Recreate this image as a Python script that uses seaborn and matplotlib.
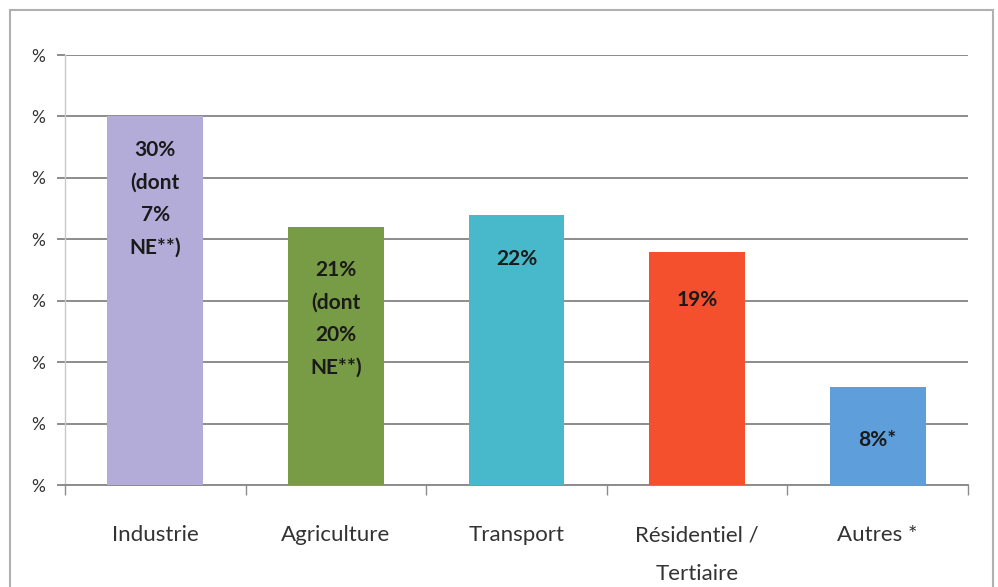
import matplotlib
matplotlib.use("Agg")
import matplotlib.pyplot as plt
import seaborn as sns
import pandas as pd
from matplotlib.patches import Rectangle

categories = ["Industrie", "Agriculture", "Transport", "Résidentiel /\nTertiaire", "Autres *"]
values = [30, 21, 22, 19, 8]
bar_labels = ["30%\n(dont\n7%\nNE**)", "21%\n(dont\n20%\nNE**)", "22%", "19%", "8%*"]
colors = ["#b3acd8", "#789b45", "#47b9ca", "#f4502d", "#5d9edb"]
y_ticks = [0, 5, 10, 15, 20, 25, 30, 35]
y_tick_labels = ["%"] * len(y_ticks)

sns.set_style("white")
plt.rcParams['font.family'] = ['Lato', 'DejaVu Sans']

df = pd.DataFrame({"secteur": categories, "part": values})

fig = plt.figure(figsize=(9.98, 5.87), dpi=100)
fig.patches.append(Rectangle((10 / 998, -0.01), 983 / 998, 1 - 10 / 587 + 0.01,
                             transform=fig.transFigure, fill=False,
                             edgecolor="#b0b0b0", linewidth=1.5))
ax = fig.add_axes([65 / 998, 1 - 485 / 587, (968 - 65) / 998, (485 - 55) / 587])

sns.barplot(data=df, x="secteur", y="part", hue="secteur", palette=colors,
            saturation=1, legend=False, width=0.53, linewidth=0, ax=ax, zorder=3)

ax.set_ylim(0, 35)
ax.set_xlim(-0.5, 4.5)
ax.set_yticks(y_ticks)
ax.set_yticklabels(y_tick_labels, fontsize=12.5, color="#333333")
ax.yaxis.grid(True, color="#8c8c8c", linewidth=1.4, zorder=0)
ax.set_axisbelow(True)
ax.tick_params(axis="y", length=6, width=1.4, color="#8c8c8c", pad=8, left=True)

ax.set_xticks(range(len(categories)))
ax.set_xticklabels(categories, fontsize=16, color="#333333", linespacing=2.2)
ax.set_xticks([i - 0.5 for i in range(len(categories) + 1)], minor=True)
ax.tick_params(axis="x", which="major", length=0, pad=29)
ax.tick_params(axis="x", which="minor", length=7, width=1, color="#8c8c8c", bottom=True)

for s in ["top", "right"]:
    ax.spines[s].set_visible(False)
ax.spines["left"].set_color("#c8c8c8")
ax.spines["left"].set_linewidth(1)
ax.spines["bottom"].set_color("#8c8c8c")
ax.spines["bottom"].set_linewidth(1.4)

ax.set_xlabel("")
ax.set_ylabel("")

offsets = [-17, -24, -25, -28, -31]
for i, (v, lab) in enumerate(zip(values, bar_labels)):
    ax.annotate(lab, xy=(i, v), xytext=(0, offsets[i]), textcoords="offset points",
                ha="center", va="top", fontsize=15, fontweight="bold",
                color="#1a1a1a", linespacing=1.78, zorder=5)

fig.savefig("out.png", dpi=100)
